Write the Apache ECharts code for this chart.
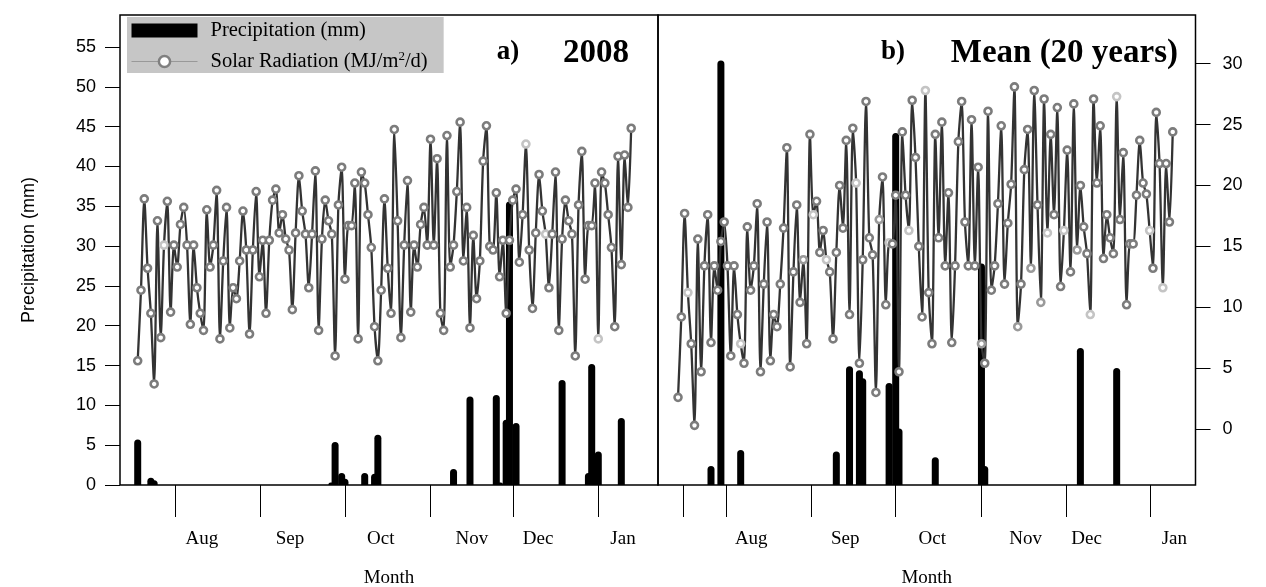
<!DOCTYPE html>
<html>
<head>
<meta charset="utf-8">
<script src="https://cdn.jsdelivr.net/npm/echarts@6/dist/echarts.min.js"></script>
<style>
html, body { margin: 0; padding: 0; background: #fff; }
#chart { width: 1266px; height: 587px; }
</style>
</head>
<body>
<div id="chart"></div>
<script>
// daily solar radiation (MJ/m2/d), panel a) 2008 and panel b) 20 year mean
var solar2008 = [5.6, 11.4, 18.9, 13.2, 9.5, 3.7, 17.1, 7.5, 15.1, 18.7, 9.6, 15.1, 13.3, 16.8, 18.2, 15.1, 8.6, 15.1, 11.6, 9.5,
    8.1, 18.0, 13.3, 15.1, 19.6, 7.4, 13.8, 18.2, 8.3, 11.6, 10.7, 13.8, 17.9, 14.7, 7.8, 14.7, 19.5, 12.5, 15.5, 9.5,
    15.5, 18.8, 19.7, 16.1, 17.6, 15.6, 14.7, 9.8, 16.1, 20.8,
    17.9, 16.0, 11.6, 16.0, 21.2, 8.1, 15.6, 18.8, 17.1, 16.0, 6.0, 18.4, 21.5, 12.3, 16.7, 16.7, 20.2, 7.4, 21.1, 20.2,
    17.6, 14.9, 8.4, 5.6, 11.4, 18.9, 13.2, 9.5, 24.6, 17.1, 7.5, 15.1, 20.4, 9.6, 15.1, 13.3, 16.8, 18.2, 15.1, 23.8,
    15.1, 22.2, 9.5, 8.1, 24.1, 13.3, 15.1, 19.5, 25.2, 13.8, 18.2, 8.3, 15.9,
    10.7, 13.8, 22.0, 24.9, 15.0, 14.7, 19.4, 12.5, 15.5, 9.5, 15.5, 18.8, 19.7, 13.7, 17.6, 23.4, 14.7, 9.9, 16.1, 20.9,
    17.9, 16.0, 11.6, 16.0, 21.1, 8.1, 15.6, 18.8, 17.1, 16.0, 6.0, 18.4, 22.8, 12.3, 16.7, 16.7, 20.2, 7.4, 21.1, 20.2,
    17.6, 14.9, 8.4, 22.4, 13.5, 22.5, 18.2, 24.7];
var solarMean = [2.6, 9.2, 17.7, 11.2, 7.0, 0.3, 15.6, 4.7, 13.4, 17.6, 7.1, 13.4, 11.4, 15.4, 17.0, 13.4, 6.0, 13.4, 9.4, 7.0,
    5.4, 16.6, 11.4, 13.4, 18.5, 4.7, 11.9, 17.0, 5.6, 9.4, 8.4, 11.9, 16.5, 23.1, 5.1, 12.9, 18.4, 10.4, 13.9, 7.0,
    24.2, 17.6, 18.7, 14.5, 16.3, 13.9, 12.9, 7.4, 14.5,
    20.0, 16.5, 23.7, 9.4, 24.7, 20.2, 5.4, 13.9, 26.9, 15.7, 14.3, 3.0, 17.2, 20.7, 10.2, 15.3, 15.2, 19.2, 4.7, 24.4,
    19.2, 16.3, 27.0, 22.3, 15.0, 9.2, 27.8, 11.2, 7.0, 24.2, 15.7, 25.2, 13.4, 19.4, 7.1, 13.4, 23.6, 26.9, 17.0, 13.4,
    25.4, 13.4, 21.5, 7.0, 5.4, 26.1, 11.4, 13.4, 18.5, 24.9, 11.9, 16.9, 20.1,
    28.1, 8.4, 11.9, 21.3, 24.6, 13.2, 27.8, 18.4, 10.4, 27.1, 16.1, 24.2, 17.6, 26.4, 11.7, 16.3, 22.9, 12.9, 26.7, 14.7,
    20.0, 16.6, 14.4, 9.4, 27.1, 20.2, 24.9, 14.0, 17.6, 15.7, 14.4, 27.3, 17.2, 22.7, 10.2, 15.2, 15.2, 19.2, 23.7, 20.2,
    19.3, 16.3, 13.2, 26.0, 21.8, 11.6, 21.8, 17.0, 24.4];
// days drawn with a paler marker
var pale2008 = [8, 118, 124, 140];
var paleMean = [3, 19, 41, 45, 54, 64, 70, 75, 112, 117, 125, 133, 143, 147];
var greyMean = [38, 61, 92, 103, 107, 110, 121];

// precipitation (mm): day index and amount
var rainDays2008 = [0, 4, 5, 59, 60, 62, 63, 69, 72, 73, 96, 101, 109, 110, 112, 113, 115, 129, 137, 138, 140, 147];
var rain2008 = [5.7, 0.9, 0.6, 0.3, 5.4, 1.5, 0.8, 1.5, 1.4, 6.3, 2.0, 11.1, 11.3, 0.3, 8.2, 35.6, 7.8, 13.2, 1.5, 15.2, 4.2, 8.4];
var rainDaysMean = [10, 13, 19, 48, 52, 55, 56, 64, 66, 67, 78, 92, 93, 122, 133];
var rainMean = [2.4, 53.3, 4.4, 4.2, 14.9, 14.4, 13.4, 12.8, 44.2, 7.1, 3.5, 27.8, 2.4, 17.2, 14.7];

// month axis
var months = ['Aug', 'Sep', 'Oct', 'Nov', 'Dec', 'Jan'];
var tickDays2008 = [11.3, 37.2, 63.0, 88.8, 114.2, 139.9];
var labelDays2008 = [19.5, 46.3, 73.9, 101.6, 121.7, 147.5];
var tickDaysMean = [1.5, 14.6, 40.4, 66.0, 91.9, 117.7, 143.2];
var labelDaysMean = [22.2, 50.7, 77.1, 105.4, 123.9, 150.5];
var precipTicks = [0, 5, 10, 15, 20, 25, 30, 35, 40, 45, 50, 55];
var solarTicks = [0, 5, 10, 15, 20, 25, 30];

var PRECIP = 'Precipitation (mm)';
var SOLAR = 'Solar Radiation (MJ/m2/d)';
var serif = '"Liberation Serif", "DejaVu Serif", serif';
var sans = '"Liberation Sans", Arial, sans-serif';

function solarSeries(vals, pale, grey) {
    return vals.map(function (v, i) {
        var item = { value: [i, v] };
        if (pale.indexOf(i) >= 0) item.itemStyle = { borderColor: '#c4c4c4' };
        else if (grey.indexOf(i) >= 0) item.itemStyle = { borderColor: '#9a9a9a' };
        return item;
    });
}
function rainSeries(days, vals) {
    return days.map(function (d, i) { return [d, vals[i]]; });
}
function monthFormatter(days) {
    return function (v) {
        var best = 0;
        for (var i = 1; i < days.length; i++) {
            if (Math.abs(days[i] - v) < Math.abs(days[best] - v)) best = i;
        }
        return months[best];
    };
}

function tickAxis(grid, min, max, ticks) {
    return {
        gridIndex: grid, type: 'value', position: 'bottom', min: min, max: max,
        axisLine: { show: false, onZero: false }, splitLine: { show: false },
        axisTick: { show: true, length: 32, customValues: ticks, lineStyle: { color: '#000', width: 1 } },
        axisLabel: { show: false },
        name: 'Month', nameLocation: 'middle', nameGap: 84,
        nameTextStyle: { fontFamily: serif, fontSize: 19, color: '#000' }
    };
}
function labelAxis(grid, min, max, days) {
    return {
        gridIndex: grid, type: 'value', position: 'bottom', min: min, max: max,
        axisLine: { show: false, onZero: false }, splitLine: { show: false }, axisTick: { show: false },
        axisLabel: { customValues: days, formatter: monthFormatter(days), margin: 45,
            fontFamily: serif, fontSize: 19, color: '#000' }
    };
}

var solarItem = { color: '#fff', borderColor: '#7c7c7c', borderWidth: 2.6 };

var chart = echarts.init(document.getElementById('chart'));
chart.setOption({
    animation: false,
    backgroundColor: '#fff',
    grid: [
        { left: 120, right: 608, top: 15, bottom: 102, outerBoundsMode: 'none', containLabel: false,
            show: true, borderColor: '#000', borderWidth: 1.5 },
        { left: 658, right: 70.5, top: 15, bottom: 102, outerBoundsMode: 'none', containLabel: false,
            show: true, borderColor: '#000', borderWidth: 1.5 }
    ],
    xAxis: [
        tickAxis(0, -5.38, 158.15, tickDays2008),
        labelAxis(0, -5.38, 158.15, labelDays2008),
        tickAxis(1, -6.07, 156.9, tickDaysMean),
        labelAxis(1, -6.07, 156.9, labelDaysMean)
    ],
    yAxis: [
        { gridIndex: 0, type: 'value', position: 'left', min: 0, max: 59.02,
            axisLine: { show: false, onZero: false }, splitLine: { show: false },
            axisTick: { show: true, length: 15, customValues: precipTicks, lineStyle: { color: '#000' } },
            axisLabel: { customValues: precipTicks, margin: 24, fontFamily: sans, fontSize: 18, color: '#000' },
            name: PRECIP, nameLocation: 'middle', nameGap: 82,
            nameTextStyle: { fontFamily: sans, fontSize: 18, color: '#000' } },
        { gridIndex: 0, type: 'value', min: -4.6, max: 34, show: false },
        { gridIndex: 1, type: 'value', min: 0, max: 59.02, show: false },
        { gridIndex: 1, type: 'value', position: 'right', min: -4.6, max: 34,
            axisLine: { show: false, onZero: false }, splitLine: { show: false },
            axisTick: { show: true, length: 15, customValues: solarTicks, lineStyle: { color: '#000' } },
            axisLabel: { customValues: solarTicks, margin: 27, fontFamily: sans, fontSize: 18, color: '#000' } }
    ],
    legend: {
        left: 127, top: 17, orient: 'vertical',
        backgroundColor: '#c6c6c6', padding: [3, 16, 1, 4], itemGap: 9,
        itemWidth: 66, itemHeight: 14,
        textStyle: { fontFamily: serif, fontSize: 20.5, color: '#000', padding: [0, 0, 0, 8],
            rich: { sup: { fontFamily: serif, fontSize: 13, color: '#000', padding: [0, 0, 10, 0] } } },
        formatter: function (name) {
            return name === SOLAR ? 'Solar Radiation (MJ/m{sup|2}/d)' : name;
        },
        data: [
            { name: PRECIP, icon: 'rect', itemStyle: { color: '#000' } },
            { name: SOLAR, lineStyle: { color: '#999', width: 1 },
                itemStyle: { color: '#fff', borderColor: '#808080', borderWidth: 2.5 } }
        ]
    },
    graphic: [
        { type: 'text', x: 508, y: 52, z: 10, style: { text: 'a)', font: 'bold 27px ' + serif, fill: '#000', textAlign: 'center', textVerticalAlign: 'middle' } },
        { type: 'text', x: 596, y: 53, z: 10, style: { text: '2008', font: 'bold 33px ' + serif, fill: '#000', textAlign: 'center', textVerticalAlign: 'middle' } },
        { type: 'text', x: 893, y: 52, z: 10, style: { text: 'b)', font: 'bold 27px ' + serif, fill: '#000', textAlign: 'center', textVerticalAlign: 'middle' } },
        { type: 'text', x: 1178, y: 53, z: 10, style: { text: 'Mean (20 years)', font: 'bold 33px ' + serif, fill: '#000', textAlign: 'right', textVerticalAlign: 'middle' } }
    ],
    series: [
        { name: PRECIP, type: 'bar', xAxisIndex: 0, yAxisIndex: 0, barWidth: 7, z: 2,
            itemStyle: { color: '#000', borderRadius: [3.5, 3.5, 0, 0] },
            data: rainSeries(rainDays2008, rain2008) },
        { name: SOLAR, type: 'line', xAxisIndex: 0, yAxisIndex: 1, z: 3, smooth: 0.25,
            symbol: 'circle', symbolSize: 7, showSymbol: true,
            lineStyle: { color: '#333', width: 2.3 }, itemStyle: solarItem,
            data: solarSeries(solar2008, pale2008, []) },
        { name: PRECIP, type: 'bar', xAxisIndex: 2, yAxisIndex: 2, barWidth: 7, z: 2,
            itemStyle: { color: '#000', borderRadius: [3.5, 3.5, 0, 0] },
            data: rainSeries(rainDaysMean, rainMean) },
        { name: SOLAR, type: 'line', xAxisIndex: 2, yAxisIndex: 3, z: 3, smooth: 0.25,
            symbol: 'circle', symbolSize: 7, showSymbol: true,
            lineStyle: { color: '#333', width: 2.3 }, itemStyle: solarItem,
            data: solarSeries(solarMean, paleMean, greyMean) }
    ]
});
</script>
</body>
</html>
